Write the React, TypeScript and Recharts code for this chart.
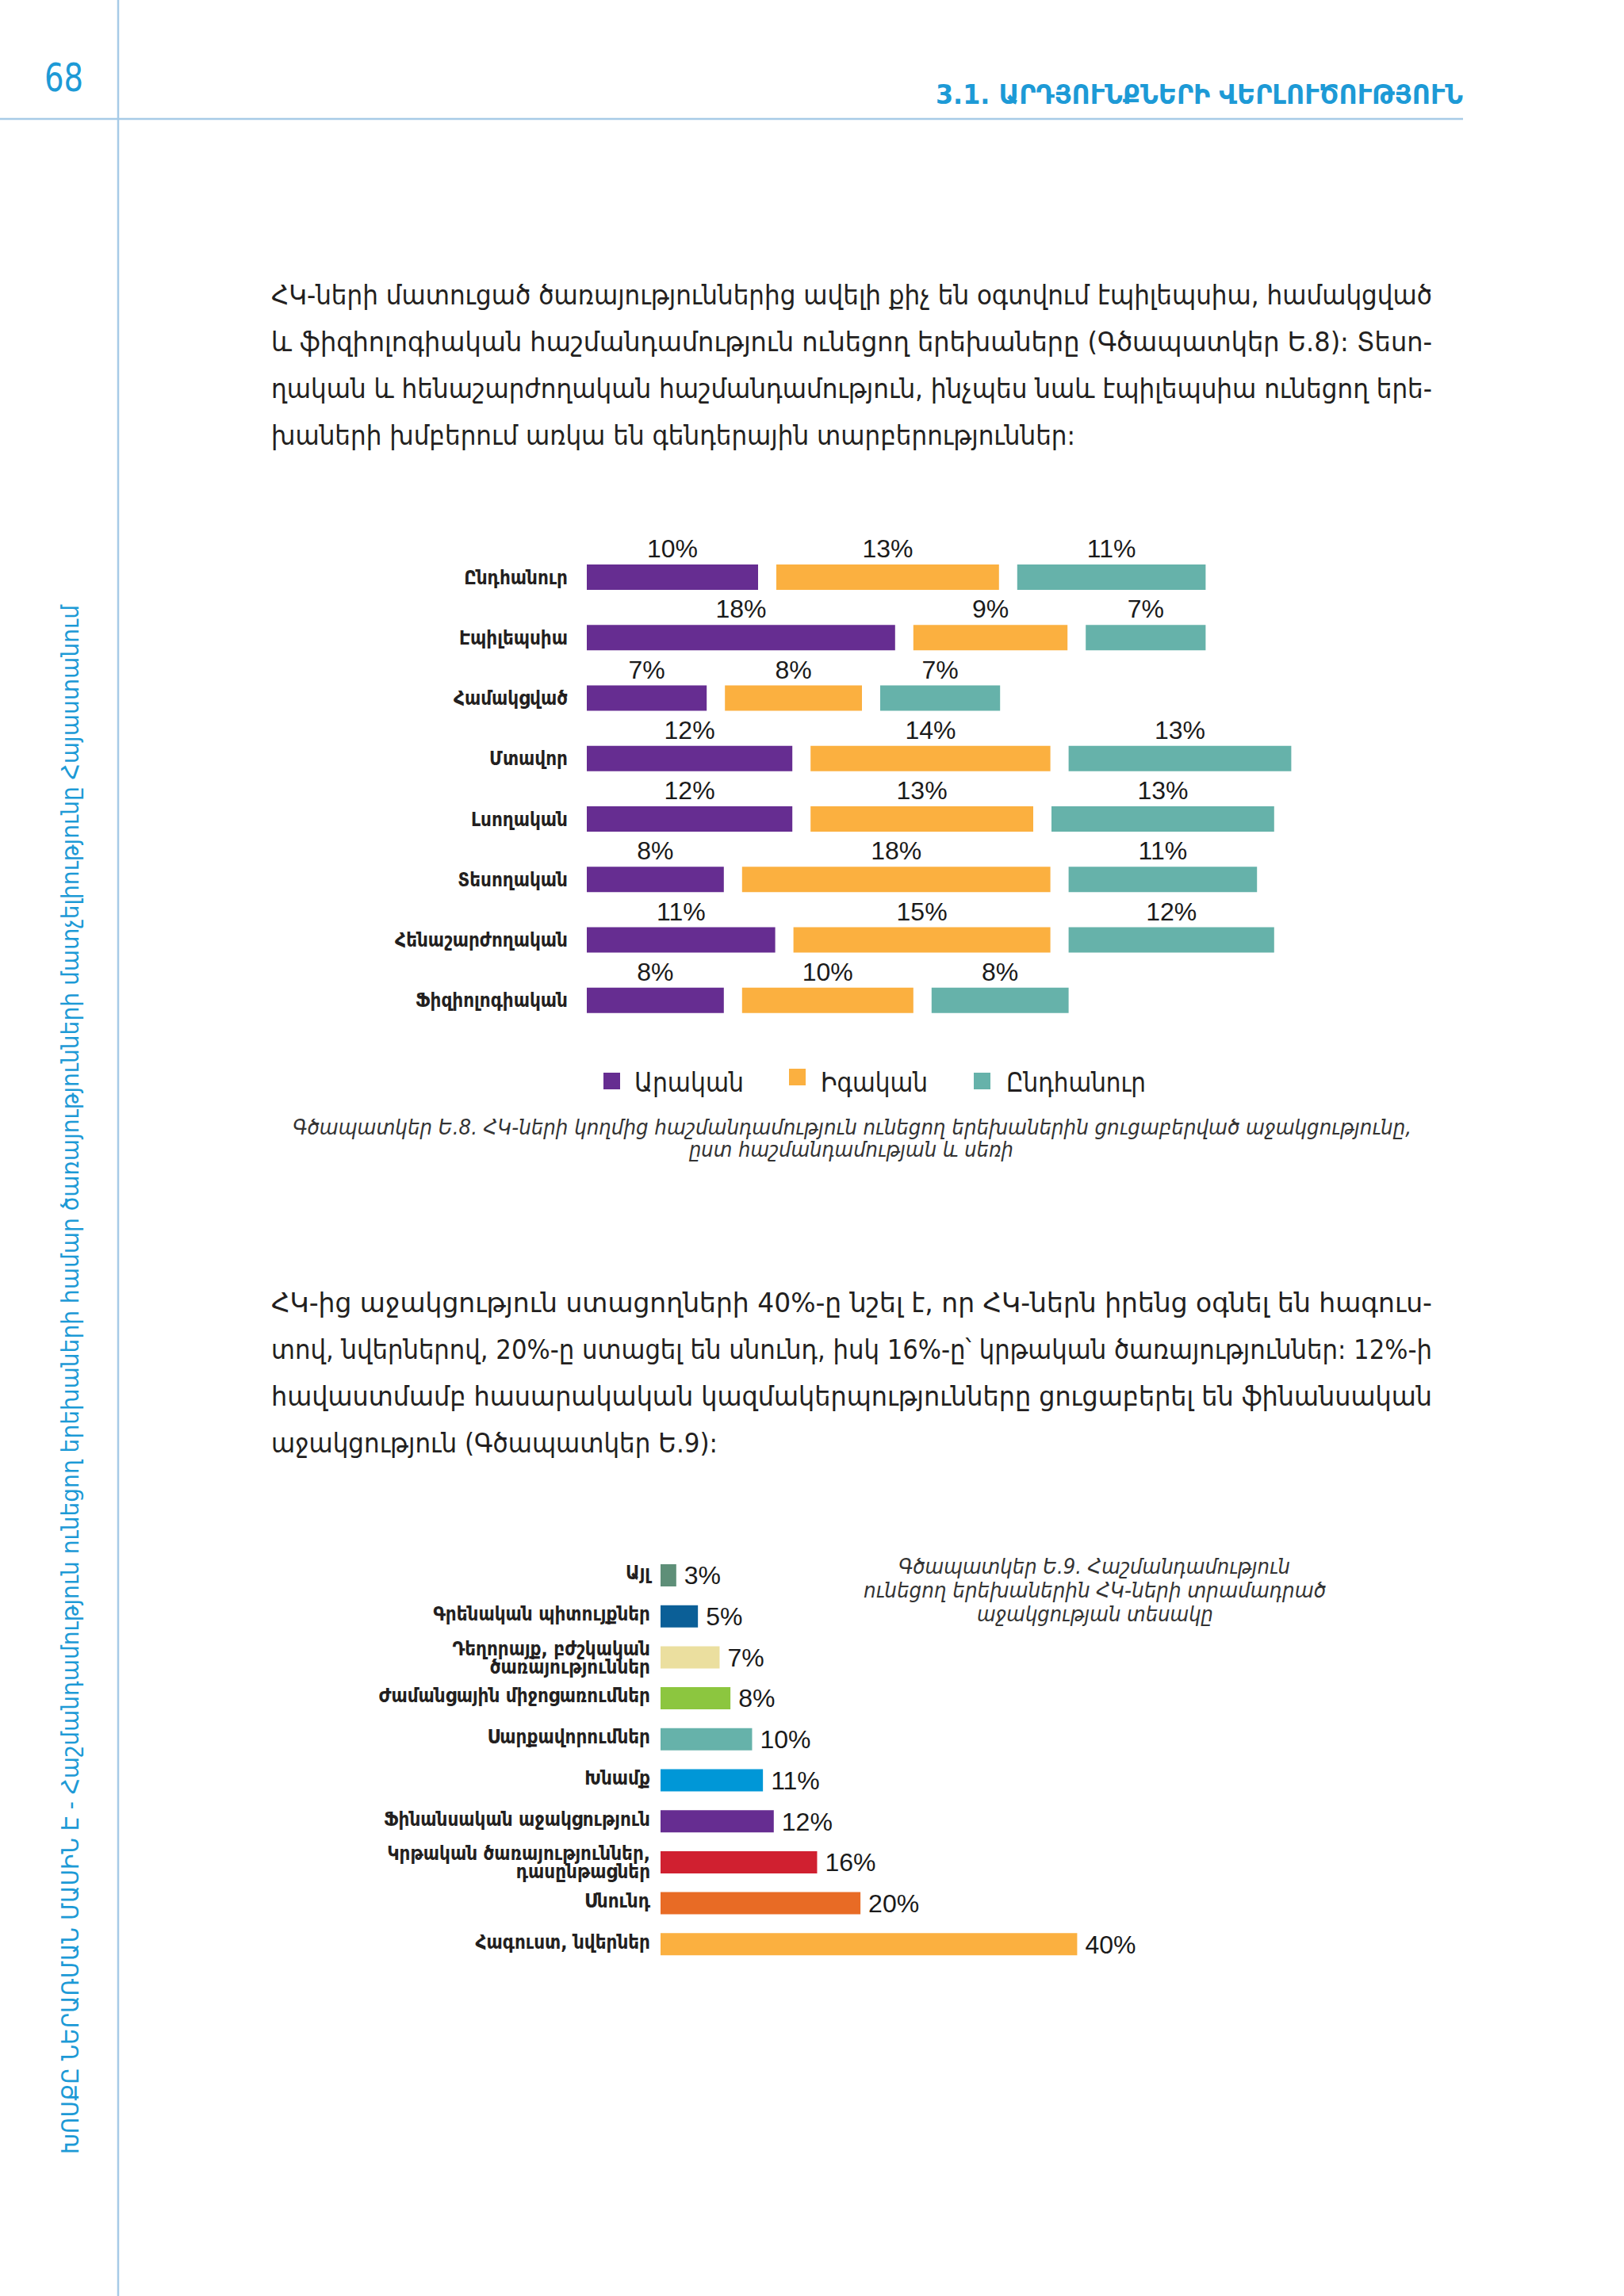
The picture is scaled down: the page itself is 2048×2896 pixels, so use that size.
import { BarChart, Bar, XAxis, YAxis, LabelList, Cell } from 'recharts'

// Գծապատկեր Ե.8 — support by disability type and sex
const DISABILITIES = [
  'Ընդհանուր',
  'Էպիլեպսիա',
  'Համակցված',
  'Մտավոր',
  'Լսողական',
  'Տեսողական',
  'Հենաշարժողական',
  'Ֆիզիոլոգիական',
]
const MALE = [10, 18, 7, 12, 12, 8, 11, 8]
const FEMALE = [13, 9, 8, 14, 13, 18, 15, 10]
const TOTAL = [11, 7, 7, 13, 13, 11, 12, 8]

const SEX_SERIES = [
  { key: 'male', label: 'Արական', color: '#662d91' },
  { key: 'female', label: 'Իգական', color: '#fbb040' },
  { key: 'total', label: 'Ընդհանուր', color: '#66b2aa' },
]

// Գծապատկեր Ե.9 — type of support
const SUPPORT_TYPES = [
  'Այլ',
  'Գրենական պիտույքներ',
  'Դեղորայք, բժշկական\nծառայություններ',
  'Ժամանցային միջոցառումներ',
  'Սարքավորումներ',
  'Խնամք',
  'Ֆինանսական աջակցություն',
  'Կրթական ծառայություններ,\nդասընթացներ',
  'Սնունդ',
  'Հագուստ, նվերներ',
]
const SUPPORT_SHARE = [3, 5, 7, 8, 10, 11, 12, 16, 20, 40]
const SUPPORT_COLORS = [
  '#5e8f78', '#0b5f97', '#ebdf9f', '#8cc63f', '#66b2aa',
  '#0097d7', '#662d91', '#d02030', '#e86b25', '#fbb040',
]

const ARM = "'DejaVu Sans Condensed', 'DejaVu Sans', sans-serif"
const NUM = "'Liberation Sans', Arial, sans-serif"
const BLUE = '#1d9ad6'
const LINE = '#a7cbe7'
const INK = '#231f20'
const GAP = 23

const sexData = DISABILITIES.map((name, i) => ({
  name,
  male: MALE[i],
  female: FEMALE[i],
  total: TOTAL[i],
}))

const supportData = SUPPORT_TYPES.map((name, i) => ({ name, value: SUPPORT_SHARE[i] }))

// stacked segment drawn with a fixed gap after each previous segment, value on top
const gapShape = (idx: number, key: string) => (p: any) => {
  const x = p.x + idx * GAP
  return (
    <g>
      <rect x={x} y={p.y} width={p.width} height={p.height} fill={p.fill} />
      <text
        x={x + p.width / 2}
        y={p.y - 9}
        textAnchor="middle"
        fontSize={32}
        fontFamily={NUM}
        fill="#1a1a1a"
      >
        {p.payload[key]}%
      </text>
    </g>
  )
}

const SupportTick = (p: any) => {
  const lines = String(p.payload.value).split('\n')
  const start = lines.length > 1 ? -11 : -3
  return (
    <text
      x={p.x}
      y={p.y + start}
      textAnchor="end"
      fontSize={24}
      fontWeight={700}
      fontFamily={ARM}
      fill={INK}
    >
      {lines.map((l, i) => (
        <tspan key={i} x={p.x} dy={i === 0 ? '0.355em' : 23}>
          {l}
        </tspan>
      ))}
    </text>
  )
}

// justified paragraph: full lines stretched to the column width
function Para({ y, lines, lastWidth }: { y: number; lines: string[]; lastWidth: number }) {
  return (
    <g fontFamily={ARM} fontSize={34} fill={INK}>
      {lines.map((l, i) => (
        <text
          key={i}
          x={342}
          y={y + i * 59}
          textLength={i === lines.length - 1 ? lastWidth : 1464}
          lengthAdjust="spacingAndGlyphs"
        >
          {l}
        </text>
      ))}
    </g>
  )
}

export default function App() {
  return (
    <div
      style={{
        position: 'relative',
        width: 2048,
        height: 2896,
        background: '#fff',
        overflow: 'hidden',
      }}
    >
      <style>{'body{margin:0}'}</style>

      <svg width={2048} height={2896} style={{ position: 'absolute', left: 0, top: 0 }}>
        <line x1={149} y1={0} x2={149} y2={2896} stroke={LINE} strokeWidth={2.5} />
        <line x1={0} y1={150} x2={1845} y2={150} stroke={LINE} strokeWidth={2.5} />
        <text x={56} y={115} fontSize={50} fontWeight={300} fontFamily={ARM} fill={BLUE} textLength={49} lengthAdjust="spacingAndGlyphs">
          68
        </text>
        <text x={1180} y={131} fontSize={34} fontWeight={700} fontFamily={ARM} fill={BLUE} textLength={665} lengthAdjust="spacingAndGlyphs">
          3.1. ԱՐԴՅՈՒՆՔՆԵՐԻ ՎԵՐԼՈՒԾՈՒԹՅՈՒՆ
        </text>
        <text
          transform="translate(99, 2717) rotate(-90)"
          fontSize={30}
          fontFamily={ARM}
          fill={BLUE}
          textLength={1954}
          lengthAdjust="spacingAndGlyphs"
        >
          ԽՈՍՔԸ ՆԵՐԱՌՄԱՆ ՄԱՍԻՆ Է - Հաշմանդամություն ունեցող երեխաների համար ծառայությունների մատչելիությունը Հայաստանում
        </text>

        <Para
          y={384}
          lastWidth={1014}
          lines={[
            'ՀԿ-ների մատուցած ծառայություններից ավելի քիչ են օգտվում էպիլեպսիա, համակցված',
            'և ֆիզիոլոգիական հաշմանդամություն ունեցող երեխաները (Գծապատկեր Ե.8): Տեսո-',
            'ղական և հենաշարժողական հաշմանդամություն, ինչպես նաև էպիլեպսիա ունեցող երե-',
            'խաների խմբերում առկա են գենդերային տարբերություններ:',
          ]}
        />

        <Para
          y={1655}
          lastWidth={563}
          lines={[
            'ՀԿ-ից աջակցություն ստացողների 40%-ը նշել է, որ ՀԿ-ներն իրենց օգնել են հագուս-',
            'տով, նվերներով, 20%-ը ստացել են սնունդ, իսկ 16%-ը՝ կրթական ծառայություններ: 12%-ի',
            'հավաստմամբ հասարակական կազմակերպությունները ցուցաբերել են ֆինանսական',
            'աջակցություն (Գծապատկեր Ե.9):',
          ]}
        />

        {/* legend of Ե.8 */}
        {SEX_SERIES.map((s, i) => {
          const sq = [761, 995, 1228][i]
          const tx = [800, 1035, 1269][i]
          const tl = [138, 135, 176][i]
          return (
            <g key={s.key}>
              <rect x={sq} y={i === 1 ? 1348 : 1353} width={21} height={21} fill={s.color} />
              <text x={tx} y={1377} fontSize={33} fontFamily={ARM} fill={INK} textLength={tl} lengthAdjust="spacingAndGlyphs">
                {s.label}
              </text>
            </g>
          )
        })}

        <g fontFamily={ARM} fontStyle="italic" fontSize={26} fill="#333">
          <text x={369} y={1431} textLength={1411} lengthAdjust="spacingAndGlyphs">
            Գծապատկեր Ե.8. ՀԿ-ների կողմից հաշմանդամություն ունեցող երեխաներին ցուցաբերված աջակցությունը,
          </text>
          <text x={869} y={1459} textLength={409} lengthAdjust="spacingAndGlyphs">
            ըստ հաշմանդամության և սեռի
          </text>
          <text x={1133} y={1985} textLength={494} lengthAdjust="spacingAndGlyphs">
            Գծապատկեր Ե.9. Հաշմանդամություն
          </text>
          <text x={1089} y={2015} textLength={583} lengthAdjust="spacingAndGlyphs">
            ունեցող երեխաներին ՀԿ-ների տրամադրած
          </text>
          <text x={1232} y={2045} textLength={298} lengthAdjust="spacingAndGlyphs">
            աջակցության տեսակը
          </text>
        </g>
      </svg>

      <div style={{ position: 'absolute', left: 440, top: 640 }}>
        <BarChart
          width={1292}
          height={670}
          layout="vertical"
          data={sexData}
          margin={{ top: 50, right: 20, bottom: 10, left: 0 }}
        >
          <XAxis type="number" domain={[0, 45]} allowDataOverflow hide />
          <YAxis
            type="category"
            dataKey="name"
            width={300}
            axisLine={false}
            tickLine={false}
            tickSize={0}
            tickMargin={24}
            tick={{ fontSize: 24, fontWeight: 700, fontFamily: ARM, fill: INK }}
          />
          {SEX_SERIES.map((s, i) => (
            <Bar
              key={s.key}
              dataKey={s.key}
              stackId="sex"
              fill={s.color}
              barSize={32}
              shape={gapShape(i, s.key)}
              isAnimationActive={false}
            />
          ))}
        </BarChart>
      </div>

      <div style={{ position: 'absolute', left: 433, top: 1951 }}>
        <BarChart
          width={1071}
          height={537}
          layout="vertical"
          data={supportData}
          margin={{ top: 10, right: 80, bottom: 10, left: 0 }}
        >
          <XAxis type="number" domain={[1.55, 44.8]} allowDataOverflow hide />
          <YAxis
            type="category"
            dataKey="name"
            width={400}
            axisLine={false}
            tickLine={false}
            tickSize={0}
            tickMargin={13}
            interval={0}
            tick={<SupportTick />}
          />
          <Bar dataKey="value" barSize={28} isAnimationActive={false}>
            {supportData.map((d, i) => (
              <Cell key={d.name} fill={SUPPORT_COLORS[i]} />
            ))}
            <LabelList
              dataKey="value"
              position="right"
              offset={10}
              formatter={(v: any) => `${v}%`}
              style={{ fontSize: 32, fontFamily: NUM, fill: '#1a1a1a' }}
            />
          </Bar>
        </BarChart>
      </div>
    </div>
  )
}
